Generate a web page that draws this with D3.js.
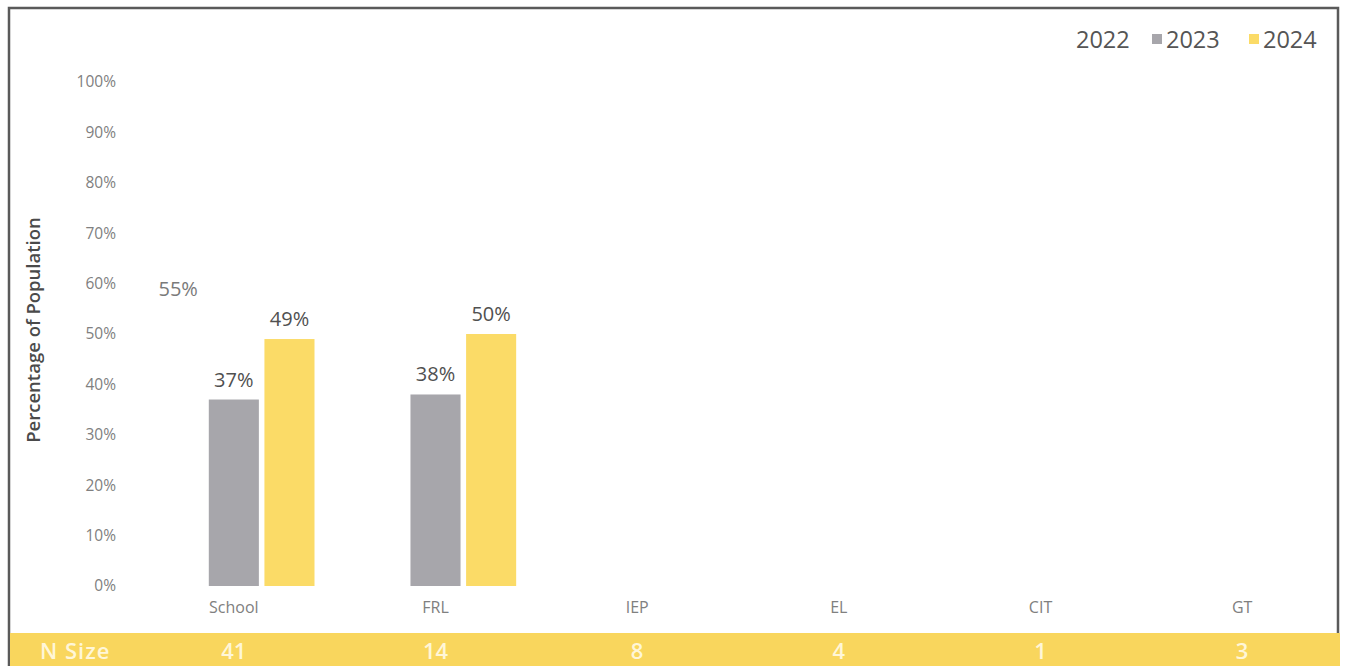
<!DOCTYPE html>
<html>
<head>
<meta charset="utf-8">
<script src="https://cdn.jsdelivr.net/npm/d3@7"></script>
<style>
  html, body { margin: 0; padding: 0; background: #ffffff; }
  svg { display: block; }
</style>
</head>
<body>
<svg id="chart" width="1348" height="666"></svg>
<script>
// Student groups along the x axis
const categories = ["School", "FRL", "IEP", "EL", "CIT", "GT"];
// Years shown in each group
const years = ["2022", "2023", "2024"];
// Percentage of population per year (null = no value reported)
const values2022 = [55, null, null, null, null, null];
const values2023 = [37, 38, null, null, null, null];
const values2024 = [49, 50, null, null, null, null];
// Number of students behind each group
const nSizes = [41, 14, 8, 4, 1, 3];
// Y axis ticks
const yTicks = [0, 10, 20, 30, 40, 50, 60, 70, 80, 90, 100];

const seriesByYear = { "2022": values2022, "2023": values2023, "2024": values2024 };
const colors = { "2022": "#ffffff", "2023": "#a7a6ab", "2024": "#fbdb67" };
const labelColors = { "2022": "#7a7a7a", "2023": "#505050", "2024": "#505050" };

const svg = d3.select("#chart");
const font = "'Open Sans', 'Noto Sans', sans-serif";

// Outer frame
svg.append("path")
  .attr("d", "M9,666 L9,8 L1338,8 L1338,666")
  .attr("fill", "none")
  .attr("stroke", "#5a5a5a")
  .attr("stroke-width", 2.5);

// Scales
const y = d3.scaleLinear().domain([0, 100]).range([586, 82]);
const x0 = d3.scaleBand().domain(categories).range([133, 1343])
  .paddingInner(0.2).paddingOuter(0.1);
const x1 = d3.scaleBand().domain(years).range([0, x0.bandwidth()]).paddingInner(0.1);

// Y axis (labels only)
const yAxis = d3.axisLeft(y).tickValues(yTicks).tickFormat(d => d + "%").tickSize(0).tickPadding(0);
const yg = svg.append("g").attr("transform", "translate(116,0)").call(yAxis);
yg.select(".domain").remove();
yg.selectAll("text")
  .attr("font-family", font).attr("font-size", 15.5).attr("fill", "#808080");

// Y axis title
svg.append("text")
  .attr("transform", "translate(40,330) rotate(-90)")
  .attr("text-anchor", "middle")
  .attr("font-family", font).attr("font-size", 18.5).attr("font-weight", 600)
  .attr("fill", "#4a4a4a")
  .text("Percentage of Population");

// X axis (category labels only)
const xAxis = d3.axisBottom(x0).tickSize(0).tickPadding(0);
const xg = svg.append("g").attr("transform", "translate(0,602)").call(xAxis);
xg.select(".domain").remove();
// Labels sit under the middle bar of each group
xg.selectAll(".tick").attr("transform", d => `translate(${x0(d) + x1("2023") + x1.bandwidth() / 2},0)`);
xg.selectAll("text")
  .attr("font-family", font).attr("font-size", 16).attr("fill", "#808080");

// Bars
const groups = svg.append("g").selectAll("g")
  .data(categories)
  .join("g")
  .attr("transform", d => `translate(${x0(d)},0)`);

const barData = (cat, i) => years
  .map(yr => ({ year: yr, value: seriesByYear[yr][i] }))
  .filter(d => d.value !== null);

groups.selectAll("rect")
  .data((cat, i) => barData(cat, i))
  .join("rect")
  .attr("x", d => x1(d.year))
  .attr("width", x1.bandwidth())
  .attr("y", d => y(d.value))
  .attr("height", d => y(0) - y(d.value))
  .attr("fill", d => colors[d.year]);

groups.selectAll("text.val")
  .data((cat, i) => barData(cat, i))
  .join("text")
  .attr("class", "val")
  .attr("x", d => x1(d.year) + x1.bandwidth() / 2)
  .attr("y", d => y(d.value) - 13)
  .attr("text-anchor", "middle")
  .attr("font-family", font).attr("font-size", 20)
  .attr("fill", d => labelColors[d.year])
  .text(d => d.value + "%");

// Legend
const legendItems = [
  { year: "2022", sx: 1064, tx: 1076 },
  { year: "2023", sx: 1152, tx: 1166 },
  { year: "2024", sx: 1249, tx: 1263 }
];
const legend = svg.append("g");
legend.selectAll("rect")
  .data(legendItems)
  .join("rect")
  .attr("x", d => d.sx).attr("y", 34)
  .attr("width", 10).attr("height", 10)
  .attr("fill", d => colors[d.year]);
legend.selectAll("text")
  .data(legendItems)
  .join("text")
  .attr("x", d => d.tx).attr("y", 48)
  .attr("font-family", font).attr("font-size", 23.5)
  .attr("fill", "#555555")
  .text(d => d.year);

// N Size band
svg.append("rect")
  .attr("x", 10).attr("y", 633)
  .attr("width", 1330).attr("height", 33)
  .attr("fill", "#f9d65d");

svg.append("text")
  .attr("x", 40).attr("y", 659)
  .attr("font-family", font).attr("font-size", 22).attr("font-weight", 600)
  .attr("letter-spacing", 1)
  .attr("fill", "#fff6d8")
  .text("N Size");

svg.append("g").selectAll("text")
  .data(categories)
  .join("text")
  .attr("x", d => x0(d) + x1("2023") + x1.bandwidth() / 2)
  .attr("y", 659)
  .attr("text-anchor", "middle")
  .attr("font-family", font).attr("font-size", 22).attr("font-weight", 600)
  .attr("fill", "#fff6d8")
  .text((d, i) => nSizes[i]);
</script>
</body>
</html>
